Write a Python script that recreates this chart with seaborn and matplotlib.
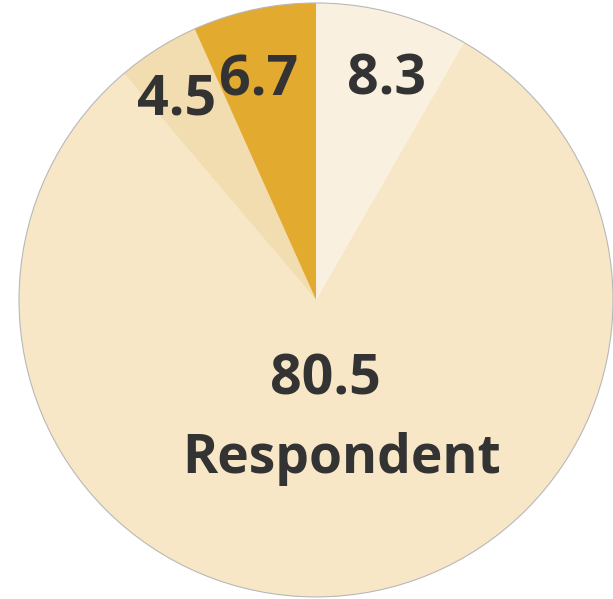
import matplotlib
matplotlib.use('Agg')
import matplotlib.pyplot as plt
import seaborn as sns

# Data
categories = ['Other A', 'Respondent', 'Other B', 'Other C']
values = [8.3, 80.5, 4.5, 6.7]
colors = ['#FAF0DF', '#F7E7C6', '#F2DDB0', '#E2AA2E']

sns.set_theme(style='white')
plt.rcParams['font.family'] = ['Open Sans', 'DejaVu Sans']

labels = [f'{v}' for v in values]

fig = plt.figure(figsize=(6.13, 5.99), dpi=100)
ax = fig.add_axes([0, 0, 1, 1])

tp = dict(fontsize=40, fontweight='bold', color='#333333', ha='center', va='center')
wedges, texts = ax.pie(values, colors=colors, startangle=90, counterclock=False,
                       labels=labels, labeldistance=0.78,
                       wedgeprops=dict(linewidth=0), textprops=tp)

# move labels to where they sit in the original
label_pos = [(0.236, 0.741), (0.030, -0.271), (-0.468, 0.674), (-0.192, 0.738)]
for t, p in zip(texts, label_pos):
    t.set_position(p)
ax.text(0.086, -0.537, categories[1], **{**tp, 'fontsize': 38.5})

# faint outline round the pie
ax.add_patch(plt.Circle((0, 0), 1.0, fill=False, edgecolor='#b8b8b8', linewidth=0.8))

ax.set_xlim(-1.064, 1.0)
ax.set_ylim(-1.007, 1.010)
ax.set_aspect('equal')
ax.axis('off')

fig.savefig('out.png', dpi=100)
